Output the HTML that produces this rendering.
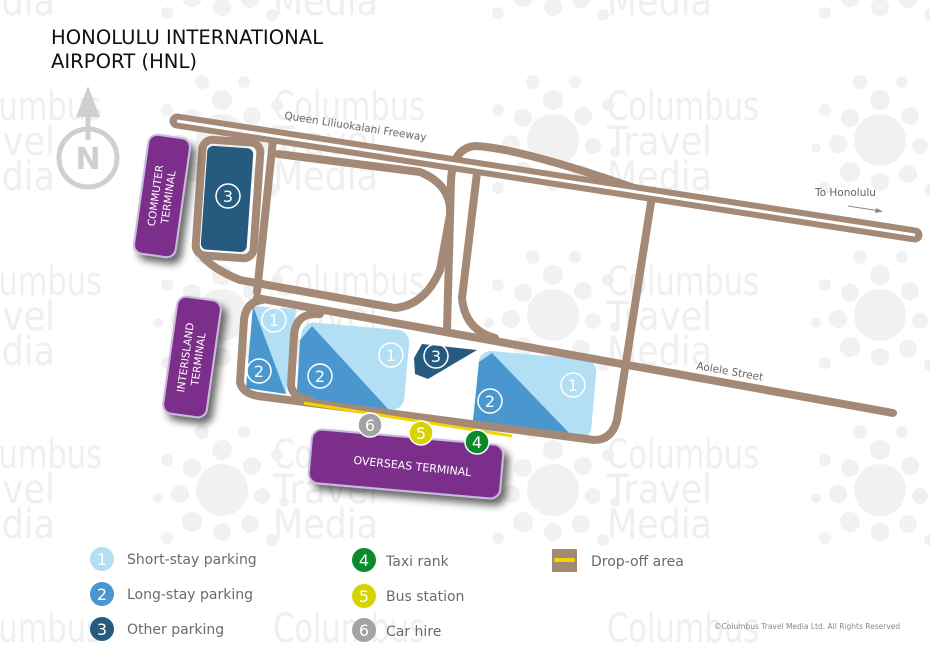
<!DOCTYPE html>
<html><head><meta charset="utf-8"><style>
html,body{margin:0;padding:0;background:#fff;overflow:hidden;width:930px;height:658px}
svg{display:block;font-family:"DejaVu Sans","Liberation Sans",sans-serif}
</style></head><body>
<svg width="930" height="658" viewBox="0 0 930 658" xmlns="http://www.w3.org/2000/svg" style="overflow:hidden">
<defs>
<g id="cl" fill="#f1f1f1">
<circle cx="0" cy="0" r="26"/>
<circle cx="-30" cy="-22" r="9"/><circle cx="0" cy="-40" r="10"/><circle cx="30" cy="-24" r="9"/>
<circle cx="40" cy="6" r="8"/><circle cx="28" cy="34" r="9"/><circle cx="0" cy="42" r="9"/>
<circle cx="-30" cy="32" r="10"/><circle cx="-42" cy="4" r="9"/>
<circle cx="-55" cy="-30" r="6"/><circle cx="-20" cy="-58" r="7"/><circle cx="22" cy="-58" r="6"/>
<circle cx="55" cy="-35" r="6"/><circle cx="62" cy="12" r="5"/><circle cx="50" cy="50" r="6"/>
<circle cx="-55" cy="48" r="6"/><circle cx="-64" cy="8" r="5"/>
</g>
<g id="wm" fill="#efefef" font-size="40">
<text x="0" y="0" textLength="152" lengthAdjust="spacingAndGlyphs">Columbus</text>
<text x="0" y="35" textLength="105" lengthAdjust="spacingAndGlyphs">Travel</text>
<text x="0" y="70" textLength="105" lengthAdjust="spacingAndGlyphs">Media</text>
</g>
<g id="wm1" fill="#efefef" font-size="40">
<text x="0" y="0" textLength="152" lengthAdjust="spacingAndGlyphs">Columbus</text>
</g>
<g id="wm3" fill="#efefef" font-size="40">
<text x="0" y="0" textLength="105" lengthAdjust="spacingAndGlyphs">Media</text>
</g>
<filter id="sh" x="-20%" y="-20%" width="150%" height="150%"><feGaussianBlur in="SourceAlpha" stdDeviation="4"/><feOffset dx="5" dy="6"/><feComponentTransfer><feFuncA type="linear" slope="0.6"/></feComponentTransfer><feMerge><feMergeNode/><feMergeNode in="SourceGraphic"/></feMerge></filter>
</defs>
<!-- watermark -->
<g>
<use href="#cl" x="222" y="140"/><use href="#cl" x="553" y="140"/><use href="#cl" x="880" y="140"/>
<use href="#cl" x="222" y="315"/><use href="#cl" x="553" y="315"/><use href="#cl" x="880" y="315"/>
<use href="#cl" x="222" y="490"/><use href="#cl" x="553" y="490"/><use href="#cl" x="880" y="490"/>
<use href="#cl" x="222" y="-35"/><use href="#cl" x="553" y="-35"/><use href="#cl" x="880" y="-35"/>
</g>
<use href="#wm" x="-50" y="120"/><use href="#wm" x="273" y="120"/><use href="#wm" x="607" y="120"/>
<use href="#wm" x="-50" y="295"/><use href="#wm" x="273" y="295"/><use href="#wm" x="607" y="295"/>
<use href="#wm" x="-50" y="468"/><use href="#wm" x="273" y="468"/><use href="#wm" x="607" y="468"/>
<use href="#wm1" x="-50" y="642"/><use href="#wm1" x="273" y="642"/><use href="#wm1" x="607" y="642"/>
<use href="#wm3" x="-50" y="15"/><use href="#wm3" x="273" y="15"/><use href="#wm3" x="607" y="15"/>
<!-- title -->
<text x="51" y="44" font-size="19.6" fill="#111">HONOLULU INTERNATIONAL</text>
<text x="51" y="68" font-size="19.6" fill="#111">AIRPORT (HNL)</text>
<!-- north -->
<g stroke="#cfcfcf" fill="none"><circle cx="88" cy="158" r="29" stroke-width="5"/><line x1="88" y1="105" x2="88" y2="140" stroke-width="5"/></g>
<polygon points="88,86 76,117 100,117" fill="#cfcfcf"/>
<text x="88" y="169" font-size="30" text-anchor="middle" fill="#cfcfcf" font-weight="bold">N</text>
<!-- parking fills -->
<polygon points="253,306 296,309 286,394 246,388" fill="#b3dff5"/>
<polygon points="253,306 286,394 246,388" fill="#4a97cf"/>
<g transform="rotate(5 352 365)"><rect x="299" y="326" width="108" height="80" rx="12" fill="#b3dff5"/></g>
<polygon points="312,326 300,340 297,393 309,401 389,410" fill="#4a97cf"/>
<g transform="rotate(5 535 395)"><rect x="476" y="355" width="118" height="80" rx="12" fill="#b3dff5"/></g>
<polygon points="492,353 479,362 473,420 484,427 574,438" fill="#4a97cf"/>
<polygon points="422,344 477,350 428,379 415,374 414,358" fill="#275a7f"/>
<!-- roads -->
<g fill="none" stroke="#a48a76" stroke-width="8" stroke-linecap="round" stroke-linejoin="round">
<path d="M177,121 L915,235" stroke-width="15"/>
<rect x="199" y="141" width="58" height="116" rx="10" transform="rotate(4 228 199)"/>
<path d="M273,140 L257,292"/>
<path d="M203,257 Q215,270 240,280 L395,308 Q425,305 440,270 L450,215 Q452,185 420,172 L278,154"/>
<path d="M447,330 L451,180 Q453,148 475,146 Q520,148 640,190"/>
<path d="M477,173 L462,298 Q465,330 495,338"/>
<path d="M257,298 L893,413"/>
<path d="M262,300 Q246,302 244,320 L240,382 Q242,393 258,396 L594,440 Q612,440 617,420 L652,196"/>
<path d="M320,314 Q296,312 294,335 L291,385 Q292,397 310,400"/>
</g>
<path d="M177,121 L915,235" stroke="#fff" stroke-width="3"/>
<rect x="204" y="147" width="46" height="104" rx="6" fill="#275a7f" transform="rotate(4 228 199)"/>
<!-- drop-off -->
<line x1="304" y1="403" x2="512" y2="436" stroke="#f3d400" stroke-width="3"/>
<!-- parking circles -->
<g fill="none" stroke="#fff" stroke-width="1.5">
<circle cx="228" cy="196" r="12"/><circle cx="274" cy="320" r="12"/><circle cx="259" cy="371" r="12"/>
<circle cx="320" cy="376" r="12"/><circle cx="391" cy="355" r="12"/><circle cx="436" cy="356" r="12"/>
<circle cx="490" cy="401" r="12"/><circle cx="573" cy="385" r="12"/>
</g>
<g fill="#fff" font-size="16" text-anchor="middle">
<text x="228" y="202">3</text><text x="274" y="326">1</text><text x="259" y="377">2</text>
<text x="320" y="382">2</text><text x="391" y="361">1</text><text x="436" y="362">3</text>
<text x="490" y="407">2</text><text x="573" y="391">1</text>
</g>
<!-- terminals -->
<g filter="url(#sh)" fill="#7b2f8b" stroke="#c9b9dc" stroke-width="2">
<rect x="141" y="136" width="42" height="120" rx="9" transform="rotate(8 162 196)"/>
<rect x="170" y="298" width="44" height="118" rx="9" transform="rotate(8 192 357)"/>
<rect x="310" y="437" width="192" height="54" rx="10" transform="rotate(5 406 464)"/>
</g>
<g fill="#fff" font-size="10.5" text-anchor="middle">
<text transform="translate(159,196) rotate(-82)"><tspan x="0" y="0">COMMUTER</tspan><tspan x="0" y="13">TERMINAL</tspan></text>
<text transform="translate(189,358) rotate(-82)"><tspan x="0" y="0">INTERISLAND</tspan><tspan x="0" y="13">TERMINAL</tspan></text>
<text transform="translate(412,470) rotate(6)" font-size="11">OVERSEAS TERMINAL</text>
</g>
<!-- service circles -->
<circle cx="370" cy="425" r="12" fill="#a3a3a3" stroke="#fff" stroke-width="1.5"/>
<circle cx="421" cy="433" r="12" fill="#d7d300" stroke="#fff" stroke-width="1.5"/>
<circle cx="477" cy="442" r="12" fill="#0b8a2c" stroke="#fff" stroke-width="1.5"/>
<g fill="#fff" font-size="16" text-anchor="middle"><text x="370" y="431">6</text><text x="421" y="439">5</text><text x="477" y="448">4</text></g>
<!-- road labels -->
<g fill="#666" font-size="10.5">
<text transform="translate(284,119) rotate(8.8)">Queen Liliuokalani Freeway</text>
<text transform="translate(696,369) rotate(10)">Aolele Street</text>
<text x="815" y="196">To Honolulu</text>
</g>
<path d="M848,206 L880,211" stroke="#888" stroke-width="1"/><polygon points="883,211.5 876,208 875,213" fill="#888"/>
<!-- legend -->
<g font-size="14" fill="#6b6b6b">
<circle cx="102" cy="559" r="12" fill="#b3dff5"/><text x="102" y="565" fill="#fff" text-anchor="middle" font-size="16">1</text><text x="127" y="564">Short-stay parking</text>
<circle cx="102" cy="594" r="12" fill="#4a97cf"/><text x="102" y="600" fill="#fff" text-anchor="middle" font-size="16">2</text><text x="127" y="599">Long-stay parking</text>
<circle cx="102" cy="629" r="12" fill="#275a7f"/><text x="102" y="635" fill="#fff" text-anchor="middle" font-size="16">3</text><text x="127" y="634">Other parking</text>
<circle cx="364" cy="560" r="12" fill="#0b8a2c"/><text x="364" y="566" fill="#fff" text-anchor="middle" font-size="16">4</text><text x="386" y="566">Taxi rank</text>
<circle cx="364" cy="596" r="12" fill="#d7d300"/><text x="364" y="602" fill="#fff" text-anchor="middle" font-size="16">5</text><text x="386" y="601">Bus station</text>
<circle cx="364" cy="630" r="12" fill="#a3a3a3"/><text x="364" y="636" fill="#fff" text-anchor="middle" font-size="16">6</text><text x="386" y="636">Car hire</text>
<rect x="552" y="549" width="25" height="23" fill="#a48a76"/><line x1="556" y1="560" x2="573" y2="560" stroke="#f3d400" stroke-width="4" stroke-linecap="round"/>
<text x="591" y="566">Drop-off area</text>
</g>
<text x="714" y="629" font-size="7.5" fill="#888">©Columbus Travel Media Ltd. All Rights Reserved</text>
</svg>
</body></html>
